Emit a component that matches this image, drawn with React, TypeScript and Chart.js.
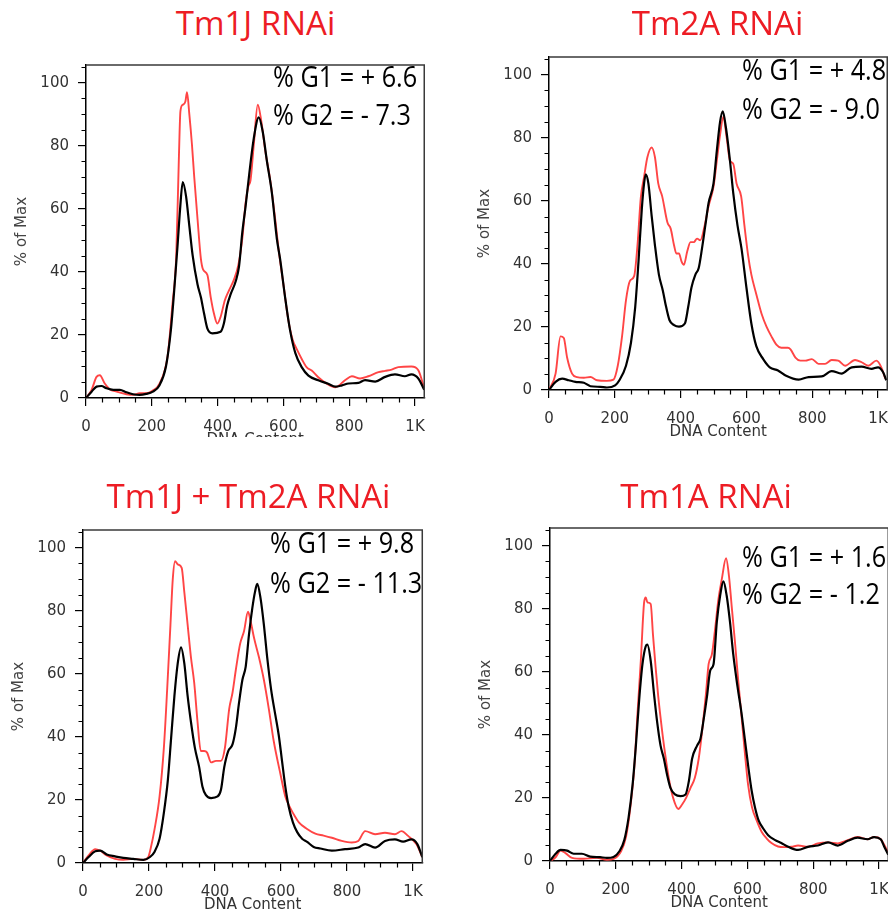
import React, { useEffect, useRef } from 'react';
import { Chart, registerables } from 'chart.js';

Chart.register(...registerables);

type Pt = [number, number];

// ---------- axis / text data ----------
const X_TICKS = [0, 200, 400, 600, 800, 1000];
const X_TICK_LABELS = ['0', '200', '400', '600', '800', '1K'];
const Y_TICKS = [0, 20, 40, 60, 80, 100];
const X_MAX = 1028;
const Y_MAX = 105.6;

const TITLES = ['Tm1J RNAi', 'Tm2A RNAi', 'Tm1J + Tm2A RNAi', 'Tm1A RNAi'];
const G1_TEXT = ['% G1 = + 6.6', '% G1 = + 4.8', '% G1 = + 9.8', '% G1 = + 1.6'];
const G2_TEXT = ['% G2 = - 7.3', '% G2 = - 9.0', '% G2 = - 11.3', '% G2 = - 1.2'];

// ---------- series data: [DNA content, % of max] ----------
const TM1J_CONTROL: Pt[] = [[0,0],[17,2],[32,3.6],[47,3.8],[62,3.1],[83,2.6],[103,2.6],[123,1.8],[143,1.2],[163,1.0],[183,1.3],[203,2],[223,4],[243,10],[258,21.6],[268,34],[278,48],[286,60],[294,68.5],[304,64],[314,54.6],[324,45.3],[339,36],[349,32],[359,26.7],[369,22],[384,20.5],[409,21],[419,23.6],[429,29.3],[440,33],[455,37],[465,41.7],[475,52.5],[485,60.8],[495,70],[510,82.4],[525,89],[537,84.5],[550,75],[565,65],[580,50.5],[590,44],[605,32],[620,21.6],[636,14.3],[656,9.7],[676,7.1],[706,5.6],[736,4.5],[758,3.6],[778,4],[798,4.6],[828,4.8],[848,5.7],[879,5.2],[909,6.7],[939,7.5],[969,6.9],[989,7.5],[1010,6.2],[1028,2.6]];
const TM1J_RNAI: Pt[] = [[0,0],[17,2.6],[32,6.7],[42,7.2],[57,4.6],[72,2.8],[93,2],[123,1.2],[143,1],[163,1.5],[183,1.5],[203,2.4],[223,4.5],[248,13.3],[263,30],[274,44.3],[282,75],[287,91],[294,93],[302,94],[307,97],[314,90],[322,80.4],[329,70],[339,56.7],[349,44.3],[356,40.7],[369,39],[379,32],[389,26.7],[399,23.6],[409,25.7],[422,31],[434,34],[450,37.6],[463,42.2],[475,50.5],[485,61.8],[493,67],[500,69],[510,80.4],[522,93],[533,87.6],[545,78.3],[560,69],[575,56.7],[585,47.4],[600,36],[615,24.7],[628,18.5],[641,15.4],[656,12.3],[671,9.7],[686,8.7],[706,6.6],[728,4.8],[758,3.4],[788,5.7],[808,6.9],[833,6.2],[858,6.9],[889,8.2],[909,8.6],[929,9],[949,9.8],[989,10],[1010,8.8],[1028,3.1]];

const TM2A_CONTROL: Pt[] = [[0,0],[20,2.6],[40,3.6],[60,3.1],[80,2.6],[106,2.3],[126,1.2],[156,1],[176,0.8],[201,1.5],[214,3.1],[234,7.7],[249,14.9],[262,26.3],[272,40.7],[282,57.3],[289,65.5],[294,68.4],[302,65.5],[312,55.2],[322,45.9],[334,36.6],[346,31.5],[354,27.3],[366,22.2],[380,20.6],[395,20.1],[413,21.1],[423,26.3],[433,32.5],[445,36.6],[455,38.7],[465,44.9],[475,52.1],[485,59.3],[500,65.5],[510,75.8],[520,85.1],[528,88.4],[538,83],[550,72.7],[560,62.4],[573,52.1],[585,44.9],[600,32.5],[615,21.1],[630,13.9],[651,9.8],[671,7.2],[696,6.2],[719,4.6],[759,3.3],[789,4.1],[829,4.3],[859,6],[889,5.2],[920,7.2],[950,7.4],[980,6.7],[1000,7.2],[1015,5.7],[1025,3.1]];
const TM2A_RNAI: Pt[] = [[0,0],[20,5.2],[35,17],[45,16.5],[55,10.3],[70,5.2],[85,4.1],[106,3.9],[126,4.1],[146,3.1],[176,2.9],[196,3.3],[209,7.7],[222,17],[234,28.5],[246,34.6],[259,36.2],[269,46],[279,61],[289,67.6],[299,73.8],[312,76.9],[322,73.8],[332,65.5],[344,61.4],[360,53.1],[370,51.1],[380,45.9],[387,43.3],[395,43.3],[403,40.7],[410,39.7],[420,43.9],[430,46.9],[440,46.9],[450,48],[460,47.5],[473,52.1],[485,58.3],[500,64.5],[510,72.7],[520,81],[530,86.7],[540,80],[550,72.7],[560,71.7],[570,65.5],[584,61.4],[594,52.1],[605,42.8],[615,36.6],[630,30.4],[646,24.2],[661,20.1],[676,17],[691,14.4],[706,13.4],[726,13.4],[734,12.9],[749,10.3],[764,9.3],[779,9.3],[799,9.8],[819,8.3],[839,8.3],[859,9.5],[879,9.3],[900,7.7],[930,9.5],[950,8.8],[970,7.7],[995,9.3],[1010,7.2],[1022,3.6]];

const DOUBLE_CONTROL: Pt[] = [[0,0],[17,1.9],[37,3.7],[52,3.9],[72,2.7],[97,2.1],[122,1.6],[152,1.3],[183,1],[203,1.9],[217,3.6],[232,7.7],[245,15.9],[257,26.2],[267,39.6],[277,53],[287,63.3],[297,68.4],[307,63.3],[317,53],[327,44.8],[339,36.5],[352,30.4],[362,24.2],[372,21.6],[388,20.6],[408,21.1],[418,23.2],[428,30.4],[440,35.5],[453,37.6],[463,42.7],[473,51],[483,58.1],[493,62.3],[503,72.5],[513,80.8],[521,85.9],[528,88.5],[538,83.9],[548,75.6],[558,65.3],[570,55],[583,46.8],[593,40.6],[603,32.4],[613,24.2],[623,18],[636,12.9],[649,9.8],[664,7.7],[679,6.7],[699,5.1],[719,4.6],[754,3.9],[794,4.4],[834,4.9],[855,6],[885,4.9],[915,7],[945,7.5],[970,6.8],[995,7.5],[1013,6],[1028,1.9]];
const DOUBLE_RNAI: Pt[] = [[0,0],[17,2.4],[37,4.4],[52,3.9],[72,2.4],[97,1.3],[122,1],[152,1.3],[183,1],[198,1.9],[205,4.6],[217,10.8],[232,21.1],[245,36.5],[255,55],[265,75.6],[272,90],[279,95.7],[287,94.7],[299,93.6],[307,85.9],[317,75.6],[327,65.3],[337,57.1],[347,44.8],[357,35.5],[367,35.5],[376,35],[388,31.9],[403,32.4],[418,32.4],[430,36.5],[443,48.9],[453,54],[463,61.2],[476,69.5],[488,73.6],[500,79.7],[508,76.7],[518,71.5],[533,65.3],[548,58.1],[563,48.9],[578,38.6],[598,28.3],[613,21.1],[623,18.5],[636,15.9],[654,12.9],[679,10.8],[704,9.3],[729,8.7],[754,8],[784,7],[814,6.5],[834,7],[855,10.1],[885,9.1],[915,9.6],[945,9.1],[965,10.1],[985,8.6],[1010,6],[1028,1.9]];

const TM1A_CONTROL: Pt[] = [[0,0],[17,2.3],[32,3.5],[52,3.3],[72,2.3],[97,2.3],[122,1.4],[152,1.2],[173,1],[193,1.3],[211,3.1],[226,6.7],[239,13.9],[251,24.2],[261,36.6],[271,51.1],[281,62.4],[291,68.1],[296,68.6],[306,63.5],[316,53.1],[326,43.8],[336,36.6],[346,32.5],[356,27.3],[366,23.2],[380,21.1],[397,20.6],[412,21.1],[422,25.3],[432,32.5],[447,36.6],[457,38.7],[467,44.9],[477,52.1],[487,60.4],[497,62.4],[507,75.8],[517,84.1],[527,88.7],[537,84.1],[547,75.8],[557,65.5],[570,55.2],[582,46.9],[592,38.7],[602,30.4],[613,22.2],[623,17],[634,12.9],[648,10.3],[663,8.2],[683,6.7],[703,5.7],[724,4.5],[754,3.5],[784,4.5],[814,4.9],[845,5.9],[875,4.9],[905,6.4],[935,7.4],[965,6.9],[985,7.6],[1005,6.9],[1017,4.3],[1028,2]];
const TM1A_RNAI: Pt[] = [[0,0],[17,1.2],[32,3.3],[47,2.5],[67,1],[102,0.7],[142,1],[173,0.4],[193,0.7],[216,3.1],[231,7.7],[243,16],[256,29.4],[266,46.9],[276,63.5],[286,82],[291,83.6],[296,82],[306,81.5],[313,71.7],[321,61.4],[329,52.1],[339,42.8],[349,34.6],[361,26.3],[374,20.1],[390,16.5],[402,18],[414,20.1],[427,23.2],[440,26.3],[452,32.5],[464,42.8],[474,53.1],[482,62.4],[492,65.5],[502,73.8],[512,83.1],[522,89.3],[535,96],[544,90.3],[552,81],[562,69.6],[572,57.3],[582,46],[592,34.6],[602,24.2],[614,17],[628,12.9],[643,9.3],[658,7.2],[673,5.7],[693,4.6],[713,4.4],[734,4.5],[754,4.9],[784,4.5],[814,5.6],[845,5.9],[875,5.6],[905,6.6],[935,7.6],[965,6.9],[985,7.6],[1005,6.9],[1017,4.9],[1028,2.5]];

const CONTROLS = [TM1J_CONTROL, TM2A_CONTROL, DOUBLE_CONTROL, TM1A_CONTROL];
const KNOCKDOWNS = [TM1J_RNAI, TM2A_RNAI, DOUBLE_RNAI, TM1A_RNAI];

// ---------- layout (page pixels) ----------
// plot: [left, top, right, bottom] of the plotting area; clip: bottom of visible region
const LAYOUT = [
  { plot: [86, 57, 427, 398], clip: 437, title: [255.5, 35], note: [273, 87, 125] },
  { plot: [549, 49, 890, 390], clip: 437, title: [717.5, 35], note: [742, 80, 119] },
  { plot: [83, 522, 425, 863], clip: 915, title: [248.5, 508], note: [270, 553, 593] },
  { plot: [550, 520, 891, 861], clip: 915, title: [706, 508], note: [742, 567, 604] },
];

const YW = 73;   // y-axis box width
const PT = 10;   // top padding
const PR = 10;   // right padding
const XH = 52;   // x-axis box height

const TICK_FONT = { family: 'DejaVu Sans', size: 15 };
const TITLE_FONT = { family: 'DejaVu Sans', size: 15 };

const framePlugin = {
  id: 'flowFrame',
  afterDraw(chart: any) {
    const { ctx, chartArea: a } = chart;
    const xs = chart.scales.x;
    const ys = chart.scales.y;
    ctx.save();
    ctx.lineWidth = 1.5;
    ctx.strokeStyle = '#3a3a3a';
    ctx.beginPath();
    ctx.moveTo(a.left, a.top);
    ctx.lineTo(a.right, a.top);
    ctx.lineTo(a.right, a.bottom);
    ctx.stroke();
    ctx.strokeStyle = '#000';
    ctx.lineWidth = 1.2;
    ctx.beginPath();
    for (let v = 50; v < X_MAX; v += 50) {
      if (v % 200 === 0) continue;
      const px = Math.round(xs.getPixelForValue(v)) + 0.5;
      ctx.moveTo(px, a.bottom);
      ctx.lineTo(px, a.bottom + 4.5);
    }
    for (let v = 5; v < Y_MAX; v += 5) {
      if (v % 20 === 0) continue;
      const py = Math.round(ys.getPixelForValue(v)) + 0.5;
      ctx.moveTo(a.left - 4.5, py);
      ctx.lineTo(a.left, py);
    }
    ctx.stroke();
    ctx.restore();
  },
};

function Panel({ idx }: { idx: number }) {
  const ref = useRef<HTMLCanvasElement>(null);
  const L = LAYOUT[idx];
  const [x0, y0, x1, y1] = L.plot;
  const width = x1 - x0 + YW + PR;
  const height = y1 - y0 + PT + XH;

  useEffect(() => {
    if (!ref.current) return;
    const toXY = (pts: Pt[]) => pts.map(([x, y]) => ({ x, y }));
    const chart = new Chart(ref.current, {
      type: 'line',
      data: {
        datasets: [
          {
            label: 'control',
            data: toXY(CONTROLS[idx]),
            borderColor: '#000',
            borderWidth: 2.2,
            pointRadius: 0,
            cubicInterpolationMode: 'monotone',
            fill: false,
          },
          {
            label: 'RNAi',
            data: toXY(KNOCKDOWNS[idx]),
            borderColor: '#ff4545',
            borderWidth: 1.9,
            pointRadius: 0,
            cubicInterpolationMode: 'monotone',
            fill: false,
          },
        ],
      },
      options: {
        responsive: false,
        animation: false,
        devicePixelRatio: 1,
        layout: { padding: { top: PT, right: PR, left: 0, bottom: 0 } },
        plugins: { legend: { display: false }, tooltip: { enabled: false } },
        scales: {
          x: {
            type: 'linear',
            min: 0,
            max: X_MAX,
            afterBuildTicks: (s: any) => {
              s.ticks = X_TICKS.map((value) => ({ value }));
            },
            afterFit: (s: any) => {
              s.height = XH;
            },
            ticks: {
              callback: (v: any) => {
                const i = X_TICKS.indexOf(Number(v));
                return i >= 0 ? X_TICK_LABELS[i] : '';
              },
              font: TICK_FONT,
              color: '#333',
              padding: 12,
              maxRotation: 0,
              autoSkip: false,
            },
            grid: { display: true, drawOnChartArea: false, drawTicks: true, tickLength: 8, color: '#000', lineWidth: 1.2 },
            border: { display: true, color: '#000', width: 1.5 },
            title: { display: true, text: 'DNA Content', font: TITLE_FONT, color: '#333', padding: { top: 0, bottom: 1 } },
          },
          y: {
            type: 'linear',
            min: 0,
            max: Y_MAX,
            afterBuildTicks: (s: any) => {
              s.ticks = Y_TICKS.map((value) => ({ value }));
            },
            afterFit: (s: any) => {
              s.width = YW;
            },
            ticks: { font: TICK_FONT, color: '#333', padding: 9, autoSkip: false },
            grid: { display: true, drawOnChartArea: false, drawTicks: true, tickLength: 8, color: '#000', lineWidth: 1.2 },
            border: { display: true, color: '#000', width: 1.5 },
            title: { display: true, text: '% of Max', font: TITLE_FONT, color: '#444', padding: { top: 0, bottom: 0 } },
          },
        },
      } as any,
      plugins: [framePlugin],
    });
    return () => chart.destroy();
  }, [idx]);

  return (
    <div style={{ position: 'absolute', left: 0, top: 0, width: 888, height: L.clip, overflow: 'hidden' }}>
      <canvas
        ref={ref}
        width={width}
        height={height}
        style={{ position: 'absolute', left: x0 - YW, top: y0 - PT, width, height, display: 'block' }}
      />
    </div>
  );
}

const TITLE_SIZE = 33;
const NOTE_SIZE = 29;
const BASE = 0.888; // Open Sans baseline position for line-height 1

export default function App() {
  return (
    <div style={{ position: 'absolute', left: 0, top: 0, width: 888, height: 915, overflow: 'hidden', background: '#fff' }}>
      {LAYOUT.map((L, i) => (
        <React.Fragment key={i}>
          <Panel idx={i} />
          <div
            style={{
              position: 'absolute',
              left: L.title[0],
              top: L.title[1] - BASE * TITLE_SIZE,
              transform: 'translateX(-50%)',
              whiteSpace: 'nowrap',
              fontFamily: '"Open Sans", sans-serif',
              fontSize: TITLE_SIZE,
              lineHeight: `${TITLE_SIZE}px`,
              color: '#ed1c24',
            }}
          >
            {TITLES[i]}
          </div>
          {[G1_TEXT[i], G2_TEXT[i]].map((t, k) => (
            <div
              key={k}
              style={{
                position: 'absolute',
                left: L.note[0],
                top: L.note[1 + k] - BASE * NOTE_SIZE,
                transform: 'scaleX(0.87)',
                transformOrigin: 'left top',
                whiteSpace: 'nowrap',
                fontFamily: '"Open Sans", sans-serif',
                fontSize: NOTE_SIZE,
                lineHeight: `${NOTE_SIZE}px`,
                color: '#000',
              }}
            >
              {t}
            </div>
          ))}
        </React.Fragment>
      ))}
    </div>
  );
}
